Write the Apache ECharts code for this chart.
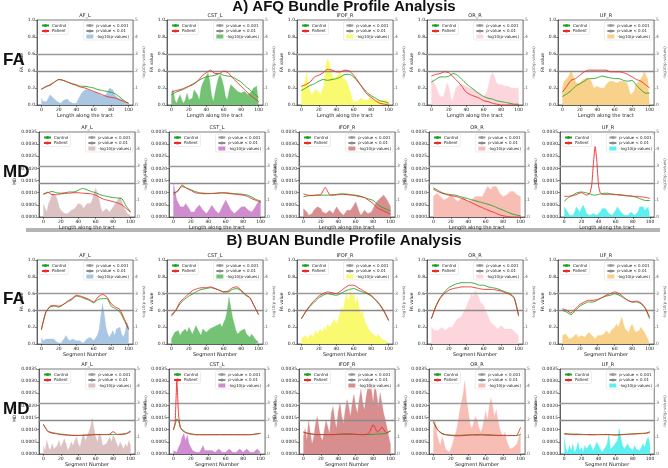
<!DOCTYPE html>
<html>
<head>
<meta charset="utf-8">
<script src="https://cdn.jsdelivr.net/npm/echarts@6/dist/echarts.min.js"></script>
<style>
html, body { margin: 0; padding: 0; background: #fff; }
#chart { width: 668px; height: 468px; }
</style>
</head>
<body>
<div id="chart"></div>
<script>
// bundles and labels
const bundles = ['AF_L', 'CST_L', 'IFOF_R', 'OR_R', 'UF_R']
const rowMetrics = ['FA', 'MD', 'FA', 'MD']
const xNames = ['Length along the tract', 'Length along the tract', 'Segment Number', 'Segment Number']
const xTicks = [0, 20, 40, 60, 80, 100]
const pThresholds = [0.001, 0.01]

// A) AFQ - FA
const afqFaAfLCtrl = [0.18, 0.22, 0.23, 0.27, 0.30, 0.29, 0.27, 0.25, 0.24, 0.22, 0.22, 0.21, 0.20, 0.18, 0.17, 0.16, 0.15, 0.13, 0.09, 0.05, 0.02]
const afqFaAfLPat = [0.19, 0.21, 0.24, 0.27, 0.30, 0.29, 0.27, 0.25, 0.23, 0.21, 0.20, 0.18, 0.16, 0.14, 0.12, 0.10, 0.09, 0.08, 0.06, 0.04, 0.02]
const afqFaAfLLogp = [0.4, 0.2, 0.1, 0.2, 0.4, 0.6, 0.7, 0.4, 0.3, 0.2, 0.15, 0.1, 0.2, 0.3, 0.2, 0.35, 0.2, 0.1, 0.1, 0.05, 0.1, 0.3, 0.5, 0.7, 0.8, 0.9, 1.0, 0.9, 0.9, 0.8, 0.8, 0.75, 0.7, 0.65, 0.6, 0.55, 0.6, 0.6, 0.8, 1.0, 1.1, 0.9, 0.6, 0.5, 0.4, 0.3, 0.3, 0.2, 0.15, 0.1, 0.05]
const afqFaCstLCtrl = [0.12, 0.15, 0.17, 0.19, 0.22, 0.25, 0.28, 0.31, 0.33, 0.34, 0.35, 0.37, 0.35, 0.34, 0.33, 0.30, 0.27, 0.22, 0.18, 0.13, 0.09]
const afqFaCstLPat = [0.15, 0.17, 0.18, 0.20, 0.22, 0.24, 0.28, 0.34, 0.38, 0.41, 0.37, 0.37, 0.40, 0.38, 0.32, 0.27, 0.22, 0.17, 0.12, 0.08, 0.04]
const afqFaCstLLogp = [0.6, 0.9, 0.3, 0.1, 0.4, 0.6, 0.3, 0.1, 0.3, 0.7, 0.3, 0.2, 0.4, 0.9, 0.8, 0.6, 0.3, 1.0, 1.3, 1.5, 1.6, 1.9, 1.4, 0.6, 0.2, 0.3, 1.2, 1.6, 1.8, 1.5, 1.1, 0.5, 0.3, 0.8, 1.2, 1.1, 1.0, 0.9, 0.8, 0.8, 0.7, 0.6, 0.8, 0.9, 0.6, 0.6, 0.8, 1.0, 1.0, 1.1, 1.1]
const afqFaIfofRCtrl = [0.17, 0.20, 0.23, 0.25, 0.28, 0.30, 0.29, 0.30, 0.31, 0.33, 0.36, 0.36, 0.33, 0.27, 0.21, 0.15, 0.11, 0.08, 0.05, 0.04, 0.02]
const afqFaIfofRPat = [0.22, 0.24, 0.27, 0.33, 0.35, 0.38, 0.42, 0.41, 0.39, 0.39, 0.41, 0.40, 0.35, 0.28, 0.20, 0.13, 0.09, 0.05, 0.02, 0.01, 0.00]
const afqFaIfofRLogp = [1.2, 1.0, 1.4, 1.9, 1.2, 0.8, 0.6, 0.7, 0.9, 0.9, 0.8, 0.6, 0.5, 1.2, 2.4, 2.7, 2.5, 2.1, 1.7, 1.5, 1.6, 1.8, 2.0, 1.8, 1.6, 1.7, 1.4, 1.1, 0.8, 0.4, 0.2, 0.1, 0.2, 0.3, 0.4, 0.4, 0.3, 0.2, 0.3, 0.4, 0.5, 0.4, 0.3, 0.2, 0.3, 0.3, 0.2, 0.3, 0.3, 0.2, 0.2]
const afqFaOrRCtrl = [0.27, 0.30, 0.33, 0.33, 0.34, 0.37, 0.35, 0.30, 0.25, 0.21, 0.17, 0.13, 0.10, 0.08, 0.07, 0.05, 0.04, 0.03, 0.02, 0.01, 0.01]
const afqFaOrRPat = [0.34, 0.36, 0.37, 0.39, 0.38, 0.33, 0.28, 0.22, 0.15, 0.12, 0.10, 0.08, 0.05, 0.04, 0.02, 0.01, 0.00, 0.00, 0.00, 0.00, 0.00]
const afqFaOrRLogp = [1.6, 1.5, 1.2, 1.0, 0.7, 0.5, 0.4, 0.5, 0.9, 1.3, 1.1, 0.5, 0.2, 0.6, 1.0, 1.1, 1.2, 1.2, 1.2, 1.1, 1.1, 1.0, 1.0, 0.9, 0.9, 0.8, 0.8, 0.7, 0.7, 0.6, 0.5, 0.5, 0.8, 1.3, 1.7, 1.9, 1.7, 1.4, 1.2, 1.2, 1.2, 1.1, 1.1, 1.1, 1.1, 1.1, 1.0, 1.0, 1.0, 1.0, 1.0]
const afqFaUfRCtrl = [0.10, 0.13, 0.17, 0.22, 0.25, 0.28, 0.31, 0.31, 0.32, 0.34, 0.33, 0.32, 0.31, 0.31, 0.29, 0.28, 0.29, 0.23, 0.18, 0.14, 0.14]
const afqFaUfRPat = [0.15, 0.22, 0.29, 0.31, 0.35, 0.39, 0.41, 0.41, 0.41, 0.41, 0.41, 0.39, 0.39, 0.39, 0.38, 0.36, 0.33, 0.30, 0.28, 0.24, 0.20]
const afqFaUfRLogp = [1.0, 1.4, 1.5, 1.6, 1.8, 2.0, 1.8, 1.5, 1.3, 1.4, 1.3, 1.4, 1.5, 1.5, 1.6, 1.6, 1.5, 1.3, 1.0, 0.9, 1.1, 1.2, 1.0, 0.9, 1.0, 1.2, 1.3, 1.4, 1.5, 1.4, 1.4, 1.3, 1.4, 1.4, 1.3, 1.4, 1.5, 1.3, 1.0, 0.6, 0.5, 0.8, 1.2, 1.3, 1.4, 1.5, 1.7, 2.0, 1.7, 1.5, 1.4]

// A) AFQ - MD
const afqMdAfLCtrl = [0.00093, 0.00100, 0.00105, 0.00100, 0.00098, 0.00100, 0.00103, 0.00103, 0.00110, 0.00118, 0.00112, 0.00105, 0.00100, 0.00092, 0.00087, 0.00083, 0.00080, 0.00078, 0.00075, 0.00045, 0.00020]
const afqMdAfLPat = [0.00095, 0.00102, 0.00092, 0.00093, 0.00095, 0.00097, 0.00098, 0.00100, 0.00100, 0.00098, 0.00097, 0.00095, 0.00090, 0.00080, 0.00072, 0.00068, 0.00063, 0.00058, 0.00050, 0.00035, 0.00020]
const afqMdAfLLogp = [0.8, 0.5, 0.3, 0.8, 1.0, 1.4, 1.5, 1.3, 1.0, 0.6, 0.4, 0.3, 0.2, 0.2, 0.2, 0.3, 0.4, 0.4, 0.5, 0.6, 0.8, 0.9, 0.7, 0.5, 0.6, 0.8, 0.9, 0.8, 1.0, 1.4, 1.7, 1.6, 1.0, 0.5, 0.3, 0.4, 0.5, 0.4, 0.3, 0.4, 0.6, 0.7, 0.9, 1.0, 1.2, 1.1, 0.6, 0.4, 0.2, 0.1, 0.1]
const afqMdCstLCtrl = [0.00090, 0.00110, 0.00125, 0.00120, 0.00112, 0.00105, 0.00100, 0.00098, 0.00097, 0.00097, 0.00098, 0.00100, 0.00100, 0.00098, 0.00096, 0.00095, 0.00093, 0.00090, 0.00082, 0.00072, 0.00065]
const afqMdCstLPat = [0.00100, 0.00105, 0.00132, 0.00118, 0.00110, 0.00100, 0.00097, 0.00096, 0.00096, 0.00097, 0.00098, 0.00099, 0.00098, 0.00096, 0.00094, 0.00092, 0.00090, 0.00085, 0.00075, 0.00068, 0.00060]
const afqMdCstLLogp = [2.0, 1.5, 1.0, 0.8, 0.6, 0.5, 0.6, 0.8, 0.7, 0.5, 0.3, 0.2, 0.3, 0.5, 0.6, 0.7, 0.6, 0.4, 0.3, 0.2, 0.3, 0.5, 0.7, 0.6, 0.4, 0.3, 0.2, 0.4, 0.6, 0.8, 1.0, 0.9, 0.6, 0.4, 0.3, 0.2, 0.3, 0.4, 0.5, 0.6, 0.7, 0.6, 0.5, 0.4, 0.3, 0.3, 0.4, 0.6, 0.8, 0.9, 1.0]
const afqMdIfofRCtrl = [0.00083, 0.00087, 0.00089, 0.00090, 0.00090, 0.00090, 0.00090, 0.00092, 0.00094, 0.00096, 0.00094, 0.00092, 0.00090, 0.00086, 0.00080, 0.00074, 0.00068, 0.00052, 0.00040, 0.00032, 0.00025]
const afqMdIfofRPat = [0.00095, 0.00090, 0.00088, 0.00090, 0.00092, 0.00122, 0.00092, 0.00090, 0.00092, 0.00093, 0.00092, 0.00090, 0.00087, 0.00084, 0.00080, 0.00068, 0.00055, 0.00038, 0.00028, 0.00020, 0.00012]
const afqMdIfofRLogp = [0.5, 0.4, 0.3, 0.1, 0.1, 0.2, 0.4, 0.5, 0.6, 0.6, 0.5, 0.3, 0.2, 0.2, 0.3, 0.4, 0.3, 0.2, 0.4, 0.6, 0.5, 0.3, 0.2, 0.1, 0.2, 0.4, 0.5, 0.4, 0.3, 0.7, 0.9, 0.6, 0.3, 0.1, 0.2, 0.4, 0.3, 0.2, 0.1, 0.3, 0.5, 0.7, 0.9, 1.0, 1.1, 1.2, 1.3, 1.2, 1.0, 0.8, 0.6]
const afqMdOrRCtrl = [0.00120, 0.00110, 0.00100, 0.00095, 0.00092, 0.00090, 0.00085, 0.00080, 0.00075, 0.00070, 0.00065, 0.00060, 0.00055, 0.00050, 0.00043, 0.00035, 0.00028, 0.00020, 0.00013, 0.00008, 0.00005]
const afqMdOrRPat = [0.00115, 0.00105, 0.00098, 0.00092, 0.00088, 0.00085, 0.00080, 0.00073, 0.00065, 0.00057, 0.00048, 0.00040, 0.00032, 0.00025, 0.00018, 0.00010, 0.00005, 0.00002, 0.00000, 0.00000, 0.00000]
const afqMdOrRLogp = [1.2, 1.3, 1.4, 1.3, 1.2, 1.1, 1.0, 1.0, 1.1, 1.2, 1.3, 1.2, 1.1, 1.0, 0.9, 1.0, 1.1, 1.2, 1.1, 1.0, 0.9, 0.9, 1.0, 1.1, 1.2, 1.3, 1.2, 1.1, 1.2, 1.4, 1.6, 1.8, 1.7, 1.6, 1.8, 1.9, 1.8, 1.6, 1.4, 1.3, 1.2, 1.2, 1.3, 1.4, 1.5, 1.6, 1.5, 1.4, 1.3, 1.2, 1.2]
const afqMdUfRCtrl = [0.00065, 0.00080, 0.00090, 0.00100, 0.00103, 0.00100, 0.00095, 0.00090, 0.00093, 0.00097, 0.00098, 0.00095, 0.00093, 0.00092, 0.00090, 0.00087, 0.00085, 0.00080, 0.00073, 0.00068, 0.00068]
const afqMdUfRPat = [0.00085, 0.00085, 0.00085, 0.00086, 0.00087, 0.00088, 0.00090, 0.00092, 0.00095, 0.00098, 0.00100, 0.00097, 0.00093, 0.00090, 0.00092, 0.00100, 0.00130, 0.00220, 0.00290, 0.00230, 0.00130, 0.00100, 0.00094, 0.00093, 0.00093, 0.00093, 0.00094, 0.00093, 0.00093, 0.00092, 0.00092, 0.00091, 0.00090, 0.00090, 0.00089, 0.00088, 0.00087, 0.00087, 0.00087, 0.00086, 0.00085, 0.00085, 0.00085, 0.00085, 0.00084, 0.00083, 0.00082, 0.00081, 0.00080, 0.00078, 0.00077]
const afqMdUfRLogp = [0.6, 0.5, 0.3, 0.1, 0.05, 0.1, 0.3, 0.6, 0.5, 0.3, 0.5, 0.7, 0.5, 0.2, 0.1, 0.1, 0.1, 0.2, 0.2, 0.1, 0.2, 0.3, 0.5, 0.6, 0.5, 0.4, 0.2, 0.1, 0.1, 0.2, 0.4, 0.6, 0.5, 0.3, 0.2, 0.1, 0.05, 0.1, 0.2, 0.3, 0.2, 0.1, 0.1, 0.3, 0.6, 0.7, 0.6, 0.4, 0.5, 0.6, 0.5]

// B) BUAN - FA
const buanFaAfLCtrl = [0.17, 0.38, 0.44, 0.45, 0.44, 0.47, 0.50, 0.53, 0.57, 0.56, 0.54, 0.52, 0.49, 0.53, 0.54, 0.54, 0.45, 0.42, 0.38, 0.28, 0.17]
const buanFaAfLPat = [0.17, 0.37, 0.45, 0.46, 0.45, 0.47, 0.51, 0.54, 0.58, 0.57, 0.55, 0.53, 0.50, 0.56, 0.59, 0.56, 0.48, 0.44, 0.41, 0.30, 0.18]
const buanFaAfLLogp = [0.4, 0.2, 0.1, 0.3, 0.2, 0.3, 0.2, 0.3, 0.3, 0.1, 0.1, 0.05, 0.1, 0.3, 0.5, 0.4, 0.2, 0.1, 0.3, 0.2, 0.2, 0.1, 0.2, 0.1, 0.05, 0.1, 0.3, 0.2, 0.4, 0.3, 0.2, 0.3, 0.5, 0.8, 1.6, 2.4, 1.8, 1.0, 0.6, 0.4, 0.6, 0.8, 0.5, 0.9, 0.8, 1.0, 0.6, 0.4, 0.7, 1.3, 1.0]
const buanFaCstLCtrl = [0.35, 0.40, 0.48, 0.53, 0.57, 0.60, 0.63, 0.65, 0.66, 0.67, 0.66, 0.64, 0.62, 0.62, 0.65, 0.66, 0.63, 0.58, 0.55, 0.45, 0.35]
const buanFaCstLPat = [0.33, 0.40, 0.50, 0.55, 0.60, 0.64, 0.66, 0.67, 0.67, 0.68, 0.66, 0.64, 0.62, 0.63, 0.67, 0.68, 0.64, 0.59, 0.55, 0.45, 0.35]
const buanFaCstLLogp = [0.3, 0.5, 0.7, 0.6, 0.8, 0.5, 0.7, 0.6, 0.9, 0.7, 1.0, 0.9, 0.6, 0.8, 1.1, 0.9, 0.8, 0.5, 0.9, 1.0, 0.7, 0.6, 0.9, 0.8, 1.0, 0.9, 1.1, 1.0, 1.2, 1.0, 1.3, 1.5, 2.0, 2.8, 2.2, 1.6, 1.2, 0.8, 0.6, 0.5, 0.8, 0.7, 0.9, 0.6, 0.5, 0.4, 0.6, 0.5, 0.3, 0.2, 0.1]
const buanFaIfofRCtrl = [0.30, 0.38, 0.45, 0.50, 0.55, 0.58, 0.60, 0.59, 0.58, 0.60, 0.63, 0.65, 0.66, 0.64, 0.62, 0.60, 0.57, 0.52, 0.46, 0.38, 0.28]
const buanFaIfofRPat = [0.30, 0.39, 0.46, 0.52, 0.57, 0.60, 0.62, 0.61, 0.60, 0.63, 0.67, 0.70, 0.70, 0.67, 0.64, 0.61, 0.58, 0.53, 0.47, 0.39, 0.28]
const buanFaIfofRLogp = [0.3, 0.2, 0.5, 0.4, 0.3, 0.6, 0.5, 0.4, 0.8, 0.6, 0.5, 0.9, 0.7, 1.0, 0.8, 1.2, 1.0, 0.9, 1.3, 1.5, 1.2, 1.4, 1.8, 2.2, 2.0, 2.6, 3.0, 2.5, 3.3, 2.8, 3.0, 2.4, 2.8, 2.2, 1.8, 2.0, 1.5, 1.2, 1.0, 0.8, 0.9, 0.6, 0.5, 0.4, 0.6, 0.5, 0.3, 0.4, 0.2, 0.1, 0.1]
const buanFaOrRCtrl = [0.30, 0.45, 0.55, 0.62, 0.67, 0.70, 0.72, 0.73, 0.73, 0.73, 0.72, 0.70, 0.70, 0.68, 0.67, 0.66, 0.64, 0.62, 0.60, 0.55, 0.35]
const buanFaOrRPat = [0.30, 0.44, 0.54, 0.60, 0.64, 0.66, 0.67, 0.68, 0.68, 0.68, 0.67, 0.66, 0.65, 0.65, 0.65, 0.64, 0.63, 0.61, 0.59, 0.54, 0.33]
const buanFaOrRLogp = [1.0, 0.9, 0.8, 0.7, 0.8, 0.9, 1.0, 0.9, 0.8, 0.9, 1.0, 1.1, 1.0, 1.2, 1.3, 1.5, 1.4, 1.6, 1.8, 2.0, 2.2, 2.5, 2.7, 3.0, 2.8, 3.2, 3.0, 2.8, 2.5, 2.6, 2.3, 2.0, 1.8, 1.5, 1.3, 1.2, 1.1, 1.0, 0.9, 1.0, 1.1, 1.0, 0.9, 0.8, 0.9, 1.0, 0.9, 0.8, 0.7, 0.6, 0.5]
const buanFaUfRCtrl = [0.40, 0.38, 0.35, 0.40, 0.45, 0.48, 0.50, 0.50, 0.52, 0.55, 0.57, 0.58, 0.60, 0.58, 0.55, 0.52, 0.50, 0.50, 0.48, 0.42, 0.30]
const buanFaUfRPat = [0.42, 0.40, 0.37, 0.42, 0.47, 0.50, 0.52, 0.52, 0.53, 0.55, 0.58, 0.60, 0.62, 0.60, 0.56, 0.52, 0.50, 0.51, 0.49, 0.43, 0.32]
const buanFaUfRLogp = [0.5, 0.4, 0.6, 0.5, 0.3, 0.2, 0.4, 0.5, 0.6, 0.4, 0.3, 0.5, 0.6, 0.4, 0.5, 0.7, 0.6, 0.5, 0.4, 0.3, 0.5, 0.6, 0.5, 0.4, 0.6, 0.8, 0.7, 0.6, 0.8, 0.9, 1.0, 1.2, 1.0, 1.3, 1.6, 1.2, 0.9, 0.8, 0.7, 1.0, 1.2, 0.9, 0.7, 0.6, 0.8, 1.0, 0.9, 0.7, 0.5, 0.3, 0.2]

// B) BUAN - MD
const buanMdAfLCtrl = [0.00120, 0.00095, 0.00088, 0.00085, 0.00082, 0.00080, 0.00078, 0.00077, 0.00077, 0.00077, 0.00078, 0.00079, 0.00080, 0.00080, 0.00080, 0.00080, 0.00080, 0.00081, 0.00082, 0.00085, 0.00095]
const buanMdAfLPat = [0.00123, 0.00093, 0.00086, 0.00083, 0.00080, 0.00078, 0.00077, 0.00076, 0.00076, 0.00077, 0.00078, 0.00079, 0.00080, 0.00080, 0.00080, 0.00080, 0.00092, 0.00080, 0.00081, 0.00083, 0.00092]
const buanMdAfLLogp = [0.5, 0.2, 0.8, 0.4, 0.2, 0.6, 0.3, 0.2, 0.5, 0.8, 0.4, 0.3, 0.9, 0.6, 0.2, 0.4, 0.7, 0.5, 0.8, 1.0, 0.6, 0.4, 0.9, 1.2, 0.8, 1.0, 1.3, 1.6, 2.1, 1.5, 1.0, 0.7, 1.2, 1.0, 0.5, 0.4, 0.6, 0.8, 1.0, 0.7, 1.1, 0.9, 0.6, 0.4, 0.7, 0.5, 0.3, 0.6, 0.4, 0.8, 0.5]
const buanMdCstLCtrl = [0.00100, 0.00120, 0.00145, 0.00135, 0.00110, 0.00100, 0.00095, 0.00090, 0.00087, 0.00085, 0.00083, 0.00082, 0.00081, 0.00080, 0.00080, 0.00080, 0.00080, 0.00080, 0.00080, 0.00080, 0.00080, 0.00080, 0.00080, 0.00080, 0.00080, 0.00080, 0.00080, 0.00080, 0.00080, 0.00080, 0.00080, 0.00080, 0.00080, 0.00080, 0.00080, 0.00080, 0.00080, 0.00080, 0.00080, 0.00080, 0.00080, 0.00080, 0.00080, 0.00080, 0.00080, 0.00080, 0.00081, 0.00082, 0.00083, 0.00084, 0.00085]
const buanMdCstLPat = [0.00100, 0.00130, 0.00300, 0.00160, 0.00110, 0.00098, 0.00092, 0.00088, 0.00085, 0.00083, 0.00082, 0.00081, 0.00080, 0.00079, 0.00079, 0.00079, 0.00079, 0.00079, 0.00079, 0.00079, 0.00079, 0.00079, 0.00079, 0.00079, 0.00079, 0.00079, 0.00079, 0.00079, 0.00079, 0.00079, 0.00079, 0.00079, 0.00079, 0.00079, 0.00079, 0.00079, 0.00079, 0.00079, 0.00079, 0.00079, 0.00079, 0.00079, 0.00079, 0.00079, 0.00079, 0.00080, 0.00081, 0.00082, 0.00083, 0.00084, 0.00085]
const buanMdCstLLogp = [0.2, 0.3, 0.1, 0.4, 0.6, 1.0, 1.2, 0.8, 1.1, 0.6, 0.4, 0.2, 0.3, 0.1, 0.2, 0.1, 0.3, 0.5, 0.2, 0.1, 0.2, 0.3, 0.2, 0.1, 0.1, 0.2, 0.3, 0.2, 0.1, 0.2, 0.1, 0.2, 0.3, 0.2, 0.1, 0.2, 0.1, 0.2, 0.3, 0.2, 0.1, 0.2, 0.3, 0.2, 0.1, 0.2, 0.1, 0.2, 0.3, 0.2, 0.1]
const buanMdIfofRCtrl = [0.00090, 0.00085, 0.00082, 0.00080, 0.00080, 0.00080, 0.00080, 0.00080, 0.00081, 0.00082, 0.00082, 0.00082, 0.00081, 0.00080, 0.00080, 0.00080, 0.00081, 0.00082, 0.00083, 0.00085, 0.00095]
const buanMdIfofRPat = [0.00090, 0.00085, 0.00082, 0.00080, 0.00080, 0.00080, 0.00080, 0.00080, 0.00081, 0.00082, 0.00082, 0.00082, 0.00081, 0.00080, 0.00080, 0.00085, 0.00120, 0.00090, 0.00110, 0.00088, 0.00095]
const buanMdIfofRLogp = [1.0, 1.5, 0.8, 2.0, 1.2, 0.6, 1.0, 1.8, 2.2, 1.5, 1.0, 0.8, 1.4, 2.0, 1.6, 1.2, 2.4, 2.8, 2.0, 1.5, 2.5, 3.0, 2.2, 1.8, 2.6, 3.2, 2.8, 2.2, 3.0, 3.5, 2.8, 2.4, 3.2, 3.8, 3.0, 2.6, 3.4, 4.0, 4.5, 3.8, 3.0, 4.2, 3.5, 2.8, 3.6, 3.0, 2.4, 2.0, 1.5, 1.0, 0.5]
const buanMdOrRCtrl = [0.00135, 0.00100, 0.00085, 0.00080, 0.00078, 0.00077, 0.00077, 0.00078, 0.00079, 0.00080, 0.00080, 0.00081, 0.00080, 0.00079, 0.00078, 0.00077, 0.00077, 0.00076, 0.00076, 0.00076, 0.00080]
const buanMdOrRPat = [0.00130, 0.00098, 0.00083, 0.00078, 0.00076, 0.00075, 0.00075, 0.00076, 0.00077, 0.00078, 0.00078, 0.00078, 0.00077, 0.00077, 0.00076, 0.00076, 0.00076, 0.00076, 0.00076, 0.00076, 0.00110]
const buanMdOrRLogp = [1.5, 2.0, 1.2, 0.8, 0.5, 1.0, 0.7, 0.3, 0.2, 0.1, 0.3, 0.6, 1.0, 1.3, 1.8, 2.5, 3.0, 3.5, 4.3, 3.2, 2.5, 1.8, 1.5, 1.8, 2.2, 2.0, 1.6, 1.3, 1.5, 2.0, 2.5, 2.0, 2.8, 3.3, 2.8, 2.2, 2.6, 2.0, 1.5, 1.2, 1.0, 1.3, 0.8, 0.5, 0.3, 0.2, 0.4, 0.3, 0.6, 1.0, 1.3]
const buanMdUfRCtrl = [0.00085, 0.00083, 0.00082, 0.00082, 0.00081, 0.00080, 0.00080, 0.00080, 0.00080, 0.00080, 0.00080, 0.00080, 0.00079, 0.00080, 0.00081, 0.00082, 0.00083, 0.00084, 0.00085, 0.00086, 0.00088]
const buanMdUfRPat = [0.00082, 0.00081, 0.00080, 0.00080, 0.00080, 0.00080, 0.00079, 0.00079, 0.00080, 0.00080, 0.00080, 0.00079, 0.00078, 0.00079, 0.00080, 0.00081, 0.00082, 0.00083, 0.00084, 0.00085, 0.00092]
const buanMdUfRLogp = [1.0, 0.3, 0.1, 0.5, 0.2, 0.6, 0.1, 0.3, 0.7, 0.2, 0.4, 0.1, 0.5, 0.3, 0.2, 0.6, 0.4, 0.2, 0.3, 0.7, 0.5, 0.3, 0.1, 0.2, 0.4, 0.6, 1.2, 0.3, 0.2, 0.5, 0.4, 0.8, 1.5, 1.0, 0.5, 0.3, 0.2, 0.6, 0.4, 0.3, 0.2, 0.5, 0.3, 0.4, 0.2, 0.3, 0.6, 0.4, 0.8, 1.0, 0.6]

// panels row by row: [control, patient, -log10 p]
const panels = [
  [afqFaAfLCtrl, afqFaAfLPat, afqFaAfLLogp], [afqFaCstLCtrl, afqFaCstLPat, afqFaCstLLogp], [afqFaIfofRCtrl, afqFaIfofRPat, afqFaIfofRLogp], [afqFaOrRCtrl, afqFaOrRPat, afqFaOrRLogp], [afqFaUfRCtrl, afqFaUfRPat, afqFaUfRLogp],
  [afqMdAfLCtrl, afqMdAfLPat, afqMdAfLLogp], [afqMdCstLCtrl, afqMdCstLPat, afqMdCstLLogp], [afqMdIfofRCtrl, afqMdIfofRPat, afqMdIfofRLogp], [afqMdOrRCtrl, afqMdOrRPat, afqMdOrRLogp], [afqMdUfRCtrl, afqMdUfRPat, afqMdUfRLogp],
  [buanFaAfLCtrl, buanFaAfLPat, buanFaAfLLogp], [buanFaCstLCtrl, buanFaCstLPat, buanFaCstLLogp], [buanFaIfofRCtrl, buanFaIfofRPat, buanFaIfofRLogp], [buanFaOrRCtrl, buanFaOrRPat, buanFaOrRLogp], [buanFaUfRCtrl, buanFaUfRPat, buanFaUfRLogp],
  [buanMdAfLCtrl, buanMdAfLPat, buanMdAfLLogp], [buanMdCstLCtrl, buanMdCstLPat, buanMdCstLLogp], [buanMdIfofRCtrl, buanMdIfofRPat, buanMdIfofRLogp], [buanMdOrRCtrl, buanMdOrRPat, buanMdOrRLogp], [buanMdUfRCtrl, buanMdUfRPat, buanMdUfRLogp]
]

// layout + colours
const colLeft = [37, 167, 297, 427, 558]
const rowTop = [20, 132, 260, 369]
const rowHeight = [85, 85, 84, 86]
const plotW = 96
const fillFA = ['#a9c6e2', '#74c274', '#fafa70', '#fcd6dc', '#f8d28a']
const fillMD = ['#dcc2c2', '#cf8ccf', '#d88e8e', '#f8beb6', '#5ef0f0']
const ctrlColor = '#22a022'
const patColor = '#f02828'
const thrColors = ['#9a9a9a', '#8a8a8a']

// spread a profile over the 0-100 segment range
function profile (arr) {
  const step = 100 / (arr.length - 1)
  return arr.map((v, i) => [i * step, v])
}

const chart = echarts.init(document.getElementById('chart'), null, { renderer: 'canvas' })
const option = {
  animation: false,
  backgroundColor: '#fff',
  textStyle: { fontFamily: 'DejaVu Sans' },
  title: [
    { text: 'A) AFQ Bundle Profile Analysis', left: 344, top: -1, textAlign: 'center', padding: 0, textStyle: { fontSize: 15, fontWeight: 'bold', fontFamily: 'Liberation Sans', color: '#111' } },
    { text: 'B) BUAN Bundle Profile Analysis', left: 344, top: 233, textAlign: 'center', padding: 0, textStyle: { fontSize: 15, fontWeight: 'bold', fontFamily: 'Liberation Sans', color: '#111' } }
  ],
  graphic: [
    { type: 'rect', shape: { x: 26, y: 228, width: 634, height: 4 }, style: { fill: '#b5b5b5' } }
  ],
  legend: [],
  grid: [],
  xAxis: [],
  yAxis: [],
  series: []
}

rowMetrics.forEach((metric, r) => {
  option.title.push({
    text: metric, left: 3, top: rowTop[r] + rowHeight[r] / 2 - 11, padding: 0,
    textStyle: { fontSize: 17, fontWeight: 'bold', fontFamily: 'Liberation Sans', color: '#111' }
  })
  const isMD = metric === 'MD'
  bundles.forEach((name, c) => {
    const g = r * 5 + c
    const [ctrl, pat, logp] = panels[g]
    const left = colLeft[c] + (isMD ? 2 : 0)
    const fill = (isMD ? fillMD : fillFA)[c]
    option.title.push({
      text: name, left: left + plotW / 2, top: rowTop[r] - 7, textAlign: 'center', padding: 0,
      textStyle: { fontSize: 5, fontWeight: 'normal', color: '#222' }
    })
    option.grid.push({
      left: left, top: rowTop[r], width: plotW, height: rowHeight[r],
      show: true, borderColor: '#222', borderWidth: 0.6, backgroundColor: 'transparent'
    })
    option.xAxis.push({
      gridIndex: g, type: 'value', min: -5, max: 105,
      splitLine: { show: false },
      axisLine: { onZero: false, lineStyle: { color: '#222', width: 0.6 } },
      axisTick: { customValues: xTicks, length: 2, lineStyle: { color: '#222', width: 0.5 } },
      axisLabel: { customValues: xTicks, fontSize: 4.5, margin: 2, color: '#222' },
      name: xNames[r], nameLocation: 'middle', nameGap: 8,
      nameTextStyle: { fontSize: 5, color: '#222' }
    })
    option.yAxis.push({
      gridIndex: g, type: 'value', position: 'left', min: 0,
      max: isMD ? 0.0035 : 1, interval: isMD ? 0.0005 : 0.2,
      splitLine: { show: false },
      axisLine: { show: true, onZero: false, lineStyle: { color: '#222', width: 0.6 } },
      axisTick: { show: true, length: 2, lineStyle: { color: '#222', width: 0.5 } },
      axisLabel: { fontSize: 4.5, margin: 2, color: '#222', formatter: v => v.toFixed(isMD ? 4 : 1) },
      name: isMD ? 'MD value' : 'FA value', nameLocation: 'middle', nameGap: isMD ? 19 : 12,
      nameTextStyle: { fontSize: 4.5, color: '#222' }
    })
    option.yAxis.push({
      gridIndex: g, type: 'value', position: 'right', min: 0, max: 5, interval: 1,
      splitLine: { show: false },
      axisLine: { show: true, onZero: false, lineStyle: { color: '#999', width: 0.6 } },
      axisTick: { show: true, length: 2, lineStyle: { color: '#999', width: 0.5 } },
      axisLabel: { fontSize: 4.5, margin: 2, color: '#666' },
      name: '-log10(p-values)', nameLocation: 'middle', nameGap: 7,
      nameTextStyle: { fontSize: 4, color: '#666' }
    })
    // -log10(p) profile, with the significance levels as reference lines
    option.series.push({
      type: 'line', name: '-log10(p-values)', xAxisIndex: g, yAxisIndex: 2 * g + 1,
      data: profile(logp), symbol: 'none', silent: true, z: 1,
      lineStyle: { width: 0.3, color: fill }, itemStyle: { color: fill },
      areaStyle: { color: fill, opacity: 1 },
      markLine: {
        silent: true, symbol: 'none', label: { show: false }, z: 2,
        data: pThresholds.map((p, k) => ({
          yAxis: -Math.log10(p),
          lineStyle: { color: thrColors[k], width: 1.3, type: 'solid' }
        }))
      }
    })
    // empty series only so the legend can list the thresholds
    pThresholds.forEach((p, k) => {
      option.series.push({
        type: 'line', name: 'p-value < ' + p, xAxisIndex: g, yAxisIndex: 2 * g + 1,
        data: [], symbol: 'none', silent: true,
        lineStyle: { width: 1.3, color: thrColors[k] }, itemStyle: { color: thrColors[k] }
      })
    })
    option.series.push({
      type: 'line', name: 'Control', xAxisIndex: g, yAxisIndex: 2 * g,
      data: profile(ctrl), symbol: 'none', smooth: 0.2, z: 3,
      lineStyle: { width: 0.9, color: ctrlColor }, itemStyle: { color: ctrlColor }
    })
    option.series.push({
      type: 'line', name: 'Patient', xAxisIndex: g, yAxisIndex: 2 * g,
      data: profile(pat), symbol: 'none', smooth: 0.2, z: 4,
      lineStyle: { width: 0.9, color: patColor }, itemStyle: { color: patColor }
    })
    const legendBase = {
      orient: 'vertical', top: rowTop[r] + 2, itemWidth: 7, itemHeight: 4, itemGap: 1.5,
      selectedMode: false, padding: [1.5, 2], borderColor: '#d8d8d8', borderWidth: 0.5, borderRadius: 1.5,
      backgroundColor: 'rgba(255,255,255,0.8)', textStyle: { fontSize: 4, color: '#222', padding: [0, 0, 0, -2] }
    }
    option.legend.push(Object.assign({}, legendBase, {
      left: left + 2, data: ['Control', 'Patient']
    }))
    option.legend.push(Object.assign({}, legendBase, {
      right: 668 - (left + plotW) + 2, align: 'left',
      data: ['p-value < 0.001', 'p-value < 0.01', { name: '-log10(p-values)', icon: 'rect', itemStyle: { color: fill } }]
    }))
  })
})

chart.setOption(option)
</script>
</body>
</html>
